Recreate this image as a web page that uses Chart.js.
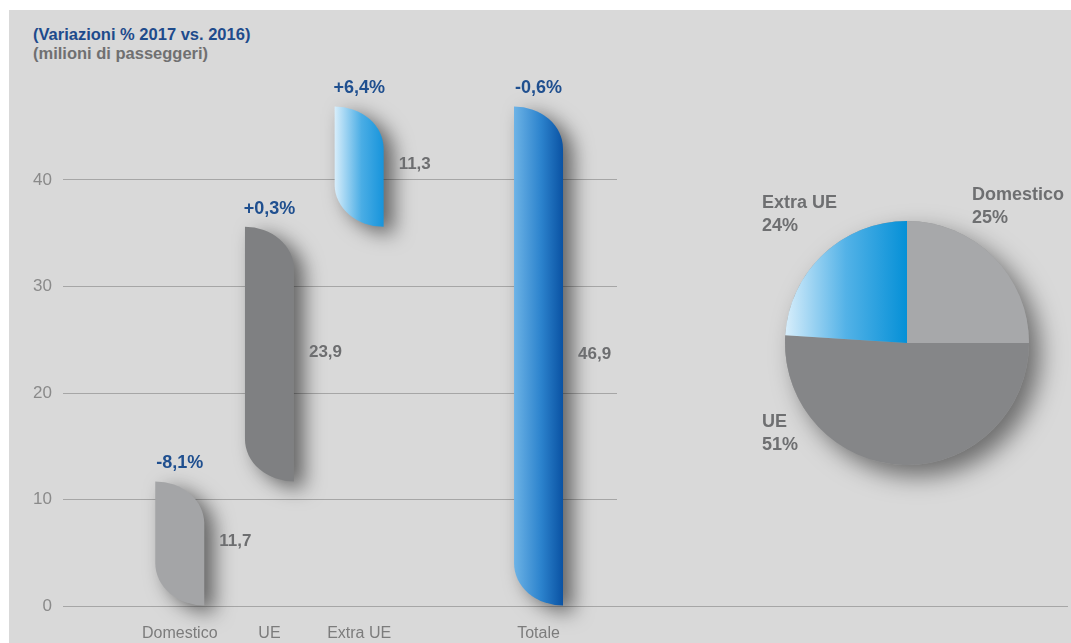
<!DOCTYPE html>
<html lang="it">
<head>
<meta charset="utf-8">
<title>Passeggeri 2017</title>
<script src="https://cdn.jsdelivr.net/npm/chart.js@4.4.1/dist/chart.umd.min.js"></script>
<style>
  html, body { margin: 0; padding: 0; background: #d9d9d9; }
  body { width: 100%; height: 643px; position: relative; overflow: hidden; font-family: "Liberation Sans", Arial, sans-serif; }
  #edgeTop { position: absolute; left: 0; top: 0; right: 0; height: 10px; background: #fff; }
  #edgeLeft { position: absolute; left: 0; top: 0; bottom: 0; width: 9px; background: #fff; }
  .head { position: absolute; left: 33px; font-weight: bold; font-size: 16.5px; line-height: 19px; white-space: nowrap; }
  #h1 { top: 24.5px; color: #1e4b8c; }
  #h2 { top: 43.5px; color: #707071; }
  #bars { position: absolute; left: 0; top: 0; }
  #pie { position: absolute; left: 740px; top: 170px; }
</style>
</head>
<body>
<div id="edgeTop"></div>
<div id="edgeLeft"></div>
<div class="head" id="h1">(Variazioni % 2017 vs. 2016)</div>
<div class="head" id="h2">(milioni di passeggeri)</div>
<canvas id="bars" width="1071" height="643"></canvas>
<canvas id="pie" width="331" height="340"></canvas>
<script>
// passeggeri per area (milioni) e variazione % sull'anno precedente
const categories = ['Domestico', 'UE', 'Extra UE'];
const passengers = [11.7, 23.9, 11.3];
const totalLabel = 'Totale';
const totalPassengers = 46.9;
const changes = [-8.1, 0.3, 6.4, -0.6];
const yTicks = [0, 10, 20, 30, 40];

// quote sul totale
const shareLabels = ['Domestico', 'UE', 'Extra UE'];
const shares = [25, 51, 24];

Chart.defaults.font.family = '"Liberation Sans", Arial, sans-serif';

const fmt = n => n.toFixed(1).replace('.', ',');
const fmtPct = n => (n > 0 ? '+' : '') + fmt(n) + '%';

// waterfall: each area starts where the previous one ended, total from zero
let run = 0;
const barData = passengers.map((v, i) => {
  const from = run;
  run += v;
  return { x: i, y: [from, run] };
});
barData.push({ x: categories.length + 1, y: [0, totalPassengers] });
const barLabels = categories.concat(totalLabel);
const barValues = passengers.concat(totalPassengers);
const slots = barData.map(d => d.x);

const barFills = ['#a4a5a7', '#7f8082', ['#d8eefb', '#4aade5', '#1794db'], ['#6db3e6', '#2c83cd', '#0a52a3']];
const gridColor = '#a6a6a6';

function leafPath(ctx, left, right, top, bottom) {
  const w = right - left;
  const ry = Math.min(w * 0.86, (bottom - top) / 2);
  ctx.beginPath();
  ctx.moveTo(left, top);
  ctx.ellipse(left, top + ry, w, ry, 0, -Math.PI / 2, 0);
  ctx.lineTo(right, bottom);
  ctx.ellipse(right, bottom - ry, w, ry, 0, Math.PI / 2, Math.PI);
  ctx.closePath();
}

const leafBars = {
  id: 'leafBars',
  beforeDatasetsDraw(chart) {
    // the zero line runs on under the pie
    const ctx = chart.ctx;
    const y0 = Math.round(chart.scales.y.getPixelForValue(0)) + 0.5;
    ctx.save();
    ctx.strokeStyle = gridColor;
    ctx.lineWidth = 1;
    ctx.beginPath();
    ctx.moveTo(chart.chartArea.right, y0);
    ctx.lineTo(chart.width - 3, y0);
    ctx.stroke();
    ctx.restore();
  },
  beforeDatasetDraw(chart, args) {
    const ctx = chart.ctx;
    args.meta.data.forEach((el, i) => {
      const p = el.getProps(['x', 'y', 'base', 'width'], true);
      const left = p.x - p.width / 2, right = p.x + p.width / 2;
      const top = Math.min(p.y, p.base), bottom = Math.max(p.y, p.base);
      const fill = barFills[i];
      ctx.save();
      if (Array.isArray(fill)) {
        const g = ctx.createLinearGradient(left, 0, right, 0);
        g.addColorStop(0, fill[0]);
        g.addColorStop(0.55, fill[1]);
        g.addColorStop(1, fill[2]);
        ctx.fillStyle = g;
      } else {
        ctx.fillStyle = fill;
      }
      ctx.shadowColor = 'rgba(0,0,0,0.55)';
      ctx.shadowBlur = 20;
      ctx.shadowOffsetX = 10;
      ctx.shadowOffsetY = 7;
      leafPath(ctx, left, right, top, bottom);
      ctx.fill();
      ctx.restore();
    });
    return false;
  },
  afterDatasetsDraw(chart) {
    const ctx = chart.ctx;
    const meta = chart.getDatasetMeta(0);
    ctx.save();
    meta.data.forEach((el, i) => {
      const p = el.getProps(['x', 'y', 'base', 'width'], true);
      const top = Math.min(p.y, p.base), bottom = Math.max(p.y, p.base);
      ctx.font = 'bold 17px "Liberation Sans", Arial, sans-serif';
      ctx.fillStyle = '#6d6e70';
      ctx.textAlign = 'left';
      ctx.textBaseline = 'middle';
      ctx.fillText(fmt(barValues[i]), p.x + p.width / 2 + 15, (top + bottom) / 2 - 2);
      ctx.font = 'bold 18px "Liberation Sans", Arial, sans-serif';
      ctx.fillStyle = '#1f4f8f';
      ctx.textAlign = 'center';
      ctx.fillText(fmtPct(changes[i]), p.x, top - 18);
    });
    ctx.restore();
  }
};

new Chart(document.getElementById('bars'), {
  type: 'bar',
  data: {
    datasets: [{ data: barData, barThickness: 49, backgroundColor: '#888' }]
  },
  options: {
    responsive: false,
    animation: false,
    layout: { padding: { left: 0, top: 73.5, right: 454, bottom: 0 } },
    plugins: { legend: { display: false }, tooltip: { enabled: false } },
    scales: {
      x: {
        type: 'linear',
        offset: false,
        min: -1.302,
        max: 4.875,
        afterBuildTicks: s => { s.ticks = slots.map(v => ({ value: v })); },
        afterFit: s => { s.height = 37; },
        grid: { display: false, drawTicks: false },
        border: { display: false },
        ticks: {
          autoSkip: false,
          maxRotation: 0,
          padding: 18,
          color: '#7c7c7c',
          font: { size: 16 },
          callback: (v, i) => barLabels[i]
        }
      },
      y: {
        min: 0,
        max: 50,
        afterBuildTicks: s => { s.ticks = yTicks.map(v => ({ value: v })); },
        afterFit: s => { s.width = 63; },
        border: { display: false },
        grid: { color: gridColor, lineWidth: 1, drawTicks: false },
        ticks: { padding: 11, color: '#8a8a8a', font: { size: 17 } }
      }
    }
  },
  plugins: [leafBars]
});

// pie of the shares
const pieColors = ['#a7a8aa', '#858688', '#3fa7e2'];
const pieTextPos = [[0.533, -1.172], [-1.189, 0.689], [-1.189, -1.107]];

const pieDecor = {
  id: 'pieDecor',
  beforeDatasetsDraw(chart) {
    const arc = chart.getDatasetMeta(0).data[0];
    const ctx = chart.ctx;
    ctx.save();
    ctx.shadowColor = 'rgba(0,0,0,0.5)';
    ctx.shadowBlur = 24;
    ctx.shadowOffsetX = 11;
    ctx.shadowOffsetY = 11;
    ctx.fillStyle = '#999';
    ctx.beginPath();
    ctx.arc(arc.x, arc.y, arc.outerRadius, 0, Math.PI * 2);
    ctx.fill();
    ctx.restore();
  },
  afterDatasetsDraw(chart) {
    const arc = chart.getDatasetMeta(0).data[0];
    const r = arc.outerRadius;
    const ctx = chart.ctx;
    ctx.save();
    ctx.font = 'bold 18px "Liberation Sans", Arial, sans-serif';
    ctx.fillStyle = '#6e6f71';
    ctx.textAlign = 'left';
    ctx.textBaseline = 'alphabetic';
    shareLabels.forEach((name, i) => {
      const tx = arc.x + pieTextPos[i][0] * r;
      const ty = arc.y + pieTextPos[i][1] * r;
      ctx.fillText(name, tx, ty);
      ctx.fillText(shares[i] + '%', tx, ty + 23);
    });
    ctx.restore();
  }
};

new Chart(document.getElementById('pie'), {
  type: 'pie',
  data: {
    labels: shareLabels,
    datasets: [{
      data: shares,
      borderWidth: 0,
      backgroundColor: c => {
        const a = c.chart.chartArea;
        if (c.dataIndex !== 2 || !a) return pieColors[c.dataIndex];
        const g = c.chart.ctx.createLinearGradient(a.left, 0, (a.left + a.right) / 2, 0);
        g.addColorStop(0, '#d8eefb');
        g.addColorStop(0.5, '#53b2e7');
        g.addColorStop(1, '#0590d7');
        return g;
      }
    }]
  },
  options: {
    responsive: false,
    animation: false,
    layout: { padding: { left: 45, right: 42, top: 51, bottom: 45 } },
    plugins: { legend: { display: false }, tooltip: { enabled: false } }
  },
  plugins: [pieDecor]
});
</script>
</body>
</html>
